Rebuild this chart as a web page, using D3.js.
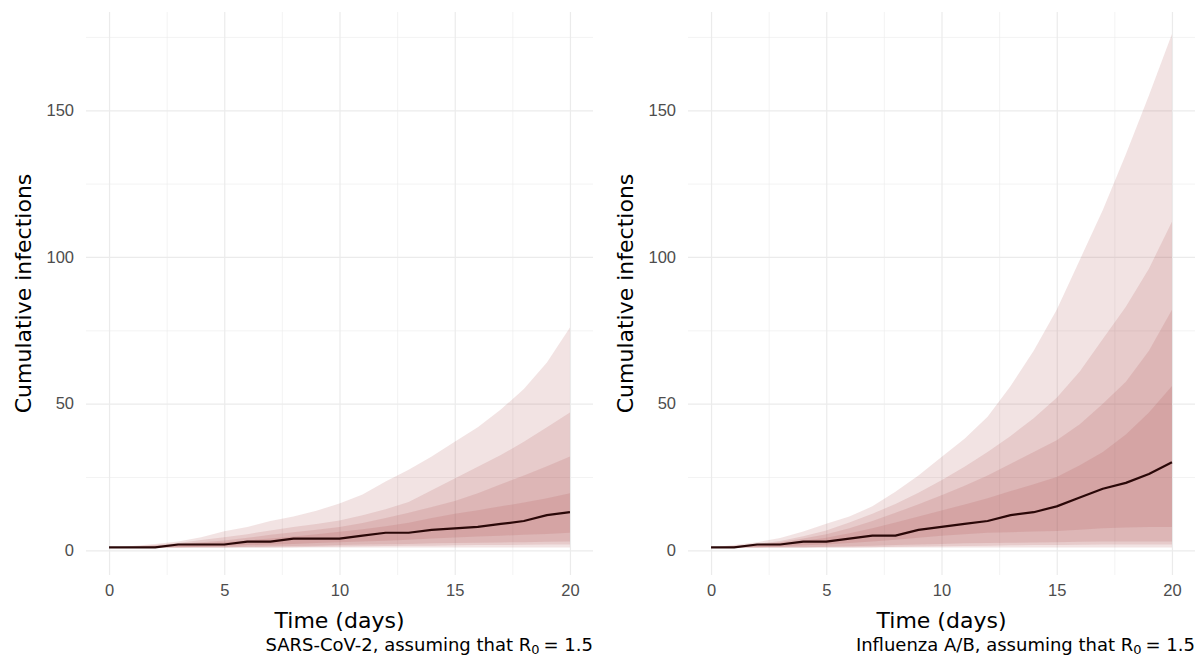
<!DOCTYPE html>
<html>
<head>
<meta charset="utf-8">
<script src="https://cdn.jsdelivr.net/npm/d3@7"></script>
<style>
  body { margin: 0; background: #fff; }
  svg { font-family: "DejaVu Sans", sans-serif; }
  .grid line { stroke: #ebebeb; }
  .grid .domain { display: none; }
  .ticks .domain, .ticks line { display: none; }
  .ticks text { fill: #4d4d4d; font-size: 16.5px; }
</style>
</head>
<body>
<script>
"use strict";

const w = 1201;
const h = 661;

// day numbers
const days = [0, 1, 2, 3, 4, 5, 6, 7, 8, 9, 10, 11, 12, 13, 14, 15, 16, 17, 18, 19, 20];

// axis ticks
const xMajor = [0, 5, 10, 15, 20];
const xMinor = [2.5, 7.5, 12.5, 17.5];
const yMajor = [0, 50, 100, 150];
const yMinor = [25, 75, 125, 175];

// SARS-CoV-2 panel
const sarsMedian = [1, 1, 1, 2, 2, 2, 3, 3, 4, 4, 4, 5, 6, 6, 7, 7.5, 8, 9, 10, 12, 13];
const sarsUpper95 = [1, 1.5, 2.2, 3, 4.5, 6.5, 8, 10, 11.5, 13.5, 16, 19, 23.5, 27.5, 32, 37, 42, 48, 55, 64, 76];
const sarsLower95 = [1, 1, 1, 1, 1, 1, 1, 1, 1, 1, 1, 1, 1, 1, 1, 1, 1, 1, 1, 1, 1];
const sarsUpper90 = [1, 1.3, 1.8, 2.5, 3.5, 4.5, 5.5, 6.8, 8, 9, 10.2, 12, 14, 16.5, 20.5, 24.5, 28.5, 32.5, 37, 42, 47];
const sarsLower90 = [1, 1, 1, 1, 1, 1, 1, 1, 1.1, 1.2, 1.3, 1.4, 1.5, 1.6, 1.6, 1.7, 1.8, 1.8, 1.9, 2, 2];
const sarsUpper75 = [1, 1.2, 1.6, 2.2, 2.8, 3.4, 4.3, 5.3, 6.2, 7, 8, 9.3, 11, 12.8, 14.8, 16.8, 19.5, 22.5, 25.5, 28.7, 32];
const sarsLower75 = [1, 1, 1, 1, 1, 1, 1.2, 1.4, 1.5, 1.6, 1.8, 2, 2.1, 2.2, 2.4, 2.5, 2.6, 2.7, 2.8, 2.9, 3];
const sarsUpper50 = [1, 1.1, 1.4, 2, 2.4, 2.8, 3.4, 4, 4.7, 5.5, 6.3, 7.2, 8.2, 9.4, 11, 12.5, 13.7, 15, 16.3, 17.8, 19.5];
const sarsLower50 = [1, 1, 1, 1, 1.2, 1.5, 1.8, 2, 2.2, 2.5, 2.8, 3, 3.3, 3.6, 4, 4.4, 4.7, 5, 5.3, 5.6, 6];

// Influenza A/B panel
const fluMedian = [1, 1, 2, 2, 3, 3, 4, 5, 5, 7, 8, 9, 10, 12, 13, 15, 18, 21, 23, 26, 30];
const fluUpper95 = [1, 1.8, 2.8, 4.2, 6.4, 9.1, 11.5, 15, 20, 25.5, 31.8, 38, 45.5, 56, 68, 82, 99, 116, 135, 155, 176];
const fluLower95 = [1, 1, 1, 1, 1, 1, 1, 1, 1, 1, 1, 1, 1, 1, 1, 1, 1, 1, 1, 1, 1];
const fluUpper90 = [1, 1.5, 2.2, 3.2, 4.8, 6.8, 9.5, 12.5, 15.8, 19.6, 23.9, 28.5, 33.5, 39, 45, 52, 61, 72, 83, 96, 112];
const fluLower90 = [1, 1, 1, 1, 1, 1, 1, 1.1, 1.2, 1.3, 1.4, 1.5, 1.6, 1.7, 1.8, 1.8, 1.9, 2, 2, 2, 2];
const fluUpper75 = [1, 1.4, 2, 2.8, 4, 5.5, 7.5, 10, 12.8, 15.7, 18.8, 22, 25.5, 29.5, 33.5, 37.5, 43, 50, 57.5, 68, 82];
const fluLower75 = [1, 1, 1, 1, 1, 1.2, 1.4, 1.6, 1.8, 2, 2.2, 2.4, 2.5, 2.6, 2.7, 2.8, 2.9, 3, 3, 3, 3];
const fluUpper50 = [1, 1.3, 1.8, 2.5, 3.3, 4.3, 5.8, 7.5, 9.5, 11.5, 13.6, 15.6, 17.8, 20.2, 22.5, 25, 29, 33.5, 39.5, 47, 56];
const fluLower50 = [1, 1, 1, 1.3, 1.7, 2, 2.5, 3, 3.6, 4.3, 5, 5.5, 6, 6.2, 6.4, 6.6, 7, 7.5, 7.8, 8, 8];

const panels = [
  {
    left: 86, right: 593, label: "SARS-CoV-2, assuming that ",
    median: sarsMedian,
    bands: [[sarsLower95, sarsUpper95], [sarsLower90, sarsUpper90], [sarsLower75, sarsUpper75], [sarsLower50, sarsUpper50]]
  },
  {
    left: 688, right: 1195, label: "Influenza A/B, assuming that ",
    median: fluMedian,
    bands: [[fluLower95, fluUpper95], [fluLower90, fluUpper90], [fluLower75, fluUpper75], [fluLower50, fluUpper50]]
  }
];

const panelTop = 12;
const panelBottom = 575;

const svg = d3.select("body").append("svg").attr("width", w).attr("height", h);

const drawPanel = (p) => {
  const xScale = d3.scaleLinear().domain([-1, 21]).range([p.left, p.right]);
  const yScale = d3.scaleLinear().domain([-8.4, 183.5]).range([panelBottom, panelTop]);
  const pw = p.right - p.left;
  const ph = panelBottom - panelTop;

  //minor grid
  svg.append("g").attr("class", "grid")
    .attr("transform", `translate(0, ${panelBottom})`)
    .call(d3.axisBottom(xScale).tickValues(xMinor).tickSize(-ph).tickFormat(""))
    .selectAll("line").attr("stroke-width", 0.6);
  svg.append("g").attr("class", "grid")
    .attr("transform", `translate(${p.left}, 0)`)
    .call(d3.axisLeft(yScale).tickValues(yMinor).tickSize(-pw).tickFormat(""))
    .selectAll("line").attr("stroke-width", 0.6);

  //major grid
  svg.append("g").attr("class", "grid")
    .attr("transform", `translate(0, ${panelBottom})`)
    .call(d3.axisBottom(xScale).tickValues(xMajor).tickSize(-ph).tickFormat(""))
    .selectAll("line").attr("stroke-width", 1.2);
  svg.append("g").attr("class", "grid")
    .attr("transform", `translate(${p.left}, 0)`)
    .call(d3.axisLeft(yScale).tickValues(yMajor).tickSize(-pw).tickFormat(""))
    .selectAll("line").attr("stroke-width", 1.2);

  //tick labels
  svg.append("g").attr("class", "ticks")
    .attr("transform", `translate(0, ${panelBottom})`)
    .call(d3.axisBottom(xScale).tickValues(xMajor).tickSize(0).tickPadding(9));
  svg.append("g").attr("class", "ticks")
    .attr("transform", `translate(${p.left}, 0)`)
    .call(d3.axisLeft(yScale).tickValues(yMajor).tickSize(0).tickPadding(12));

  //ribbons
  p.bands.forEach(([lo, hi]) => {
    const area = d3.area()
      .x((d, i) => xScale(days[i]))
      .y0((d, i) => yScale(lo[i]))
      .y1((d, i) => yScale(hi[i]));
    svg.append("path")
      .datum(days)
      .attr("d", area)
      .attr("fill", "#a84545")
      .attr("fill-opacity", 0.15);
  });

  //median
  const line = d3.line()
    .x((d, i) => xScale(days[i]))
    .y((d) => yScale(d));
  svg.append("path")
    .datum(p.median)
    .attr("d", line)
    .attr("fill", "none")
    .attr("stroke", "#2a0808")
    .attr("stroke-width", 2.2)
    .attr("stroke-linejoin", "round");

  //axis titles
  svg.append("text")
    .attr("x", (p.left + p.right) / 2)
    .attr("y", 628)
    .attr("text-anchor", "middle")
    .attr("font-size", "22px")
    .attr("fill", "#000")
    .text("Time (days)");

  svg.append("text")
    .attr("transform", `translate(${p.left - 55}, ${(panelTop + panelBottom) / 2}) rotate(-90)`)
    .attr("text-anchor", "middle")
    .attr("font-size", "22px")
    .attr("fill", "#000")
    .text("Cumulative infections");

  //caption with subscript
  const cap = svg.append("text")
    .attr("x", p.right)
    .attr("y", 651)
    .attr("text-anchor", "end")
    .attr("font-size", "18px")
    .attr("fill", "#000");
  cap.append("tspan").text(p.label + "R");
  cap.append("tspan").attr("font-size", "13px").attr("dy", 3).text("0");
  cap.append("tspan").attr("dy", -3).attr("dx", 4).text("= 1.5");
};

panels.forEach(drawPanel);
</script>
</body>
</html>
